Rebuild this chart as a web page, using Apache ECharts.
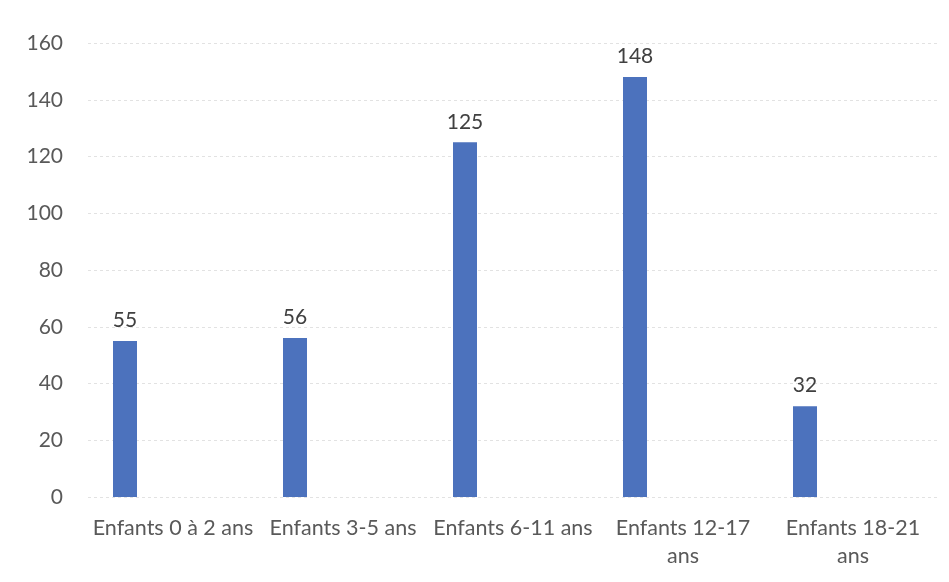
<!DOCTYPE html>
<html>
<head>
<meta charset="utf-8">
<script src="https://cdn.jsdelivr.net/npm/echarts@6/dist/echarts.min.js"></script>
<style>
  html, body { margin: 0; padding: 0; background: #ffffff; }
  #chart { width: 949px; height: 582px; }
</style>
</head>
<body>
<div id="chart"></div>
<script>
// Effectifs par tranche d'âge
const categories = ['Enfants 0 à 2 ans', 'Enfants 3-5 ans', 'Enfants 6-11 ans', 'Enfants 12-17\nans', 'Enfants 18-21\nans'];
const effectifs = [55, 56, 125, 148, 32];
const yTicks = { min: 0, max: 160, interval: 20 };

const FONT = 'Lato, "Open Sans", sans-serif';

const chart = echarts.init(document.getElementById('chart'));
chart.setOption({
  animation: false,
  backgroundColor: '#ffffff',
  textStyle: { fontFamily: FONT },
  grid: { left: 88, right: 11, top: 43, bottom: 85 },
  xAxis: {
    type: 'category',
    data: categories,
    axisLine: { show: false },
    axisTick: { show: false },
    axisLabel: {
      interval: 0,
      margin: 17,
      color: '#595959',
      fontSize: 21.5,
      lineHeight: 28,
      fontFamily: FONT
    }
  },
  yAxis: {
    type: 'value',
    min: yTicks.min,
    max: yTicks.max,
    interval: yTicks.interval,
    axisLine: { show: false },
    axisTick: { show: false },
    axisLabel: {
      margin: 25,
      color: '#595959',
      fontSize: 21,
      fontFamily: FONT
    },
    splitLine: { lineStyle: { color: '#e2e2e2', type: [3, 3], width: 1 } }
  },
  series: [
    {
      type: 'bar',
      data: effectifs,
      barWidth: 24,
      barGap: '300%',
      itemStyle: { color: '#4c72bd' },
      label: {
        show: true,
        position: 'top',
        distance: 10,
        color: '#404040',
        fontSize: 21,
        fontFamily: FONT
      }
    },
    {
      type: 'bar',
      data: [],
      barWidth: 24
    }
  ]
});
</script>
</body>
</html>
